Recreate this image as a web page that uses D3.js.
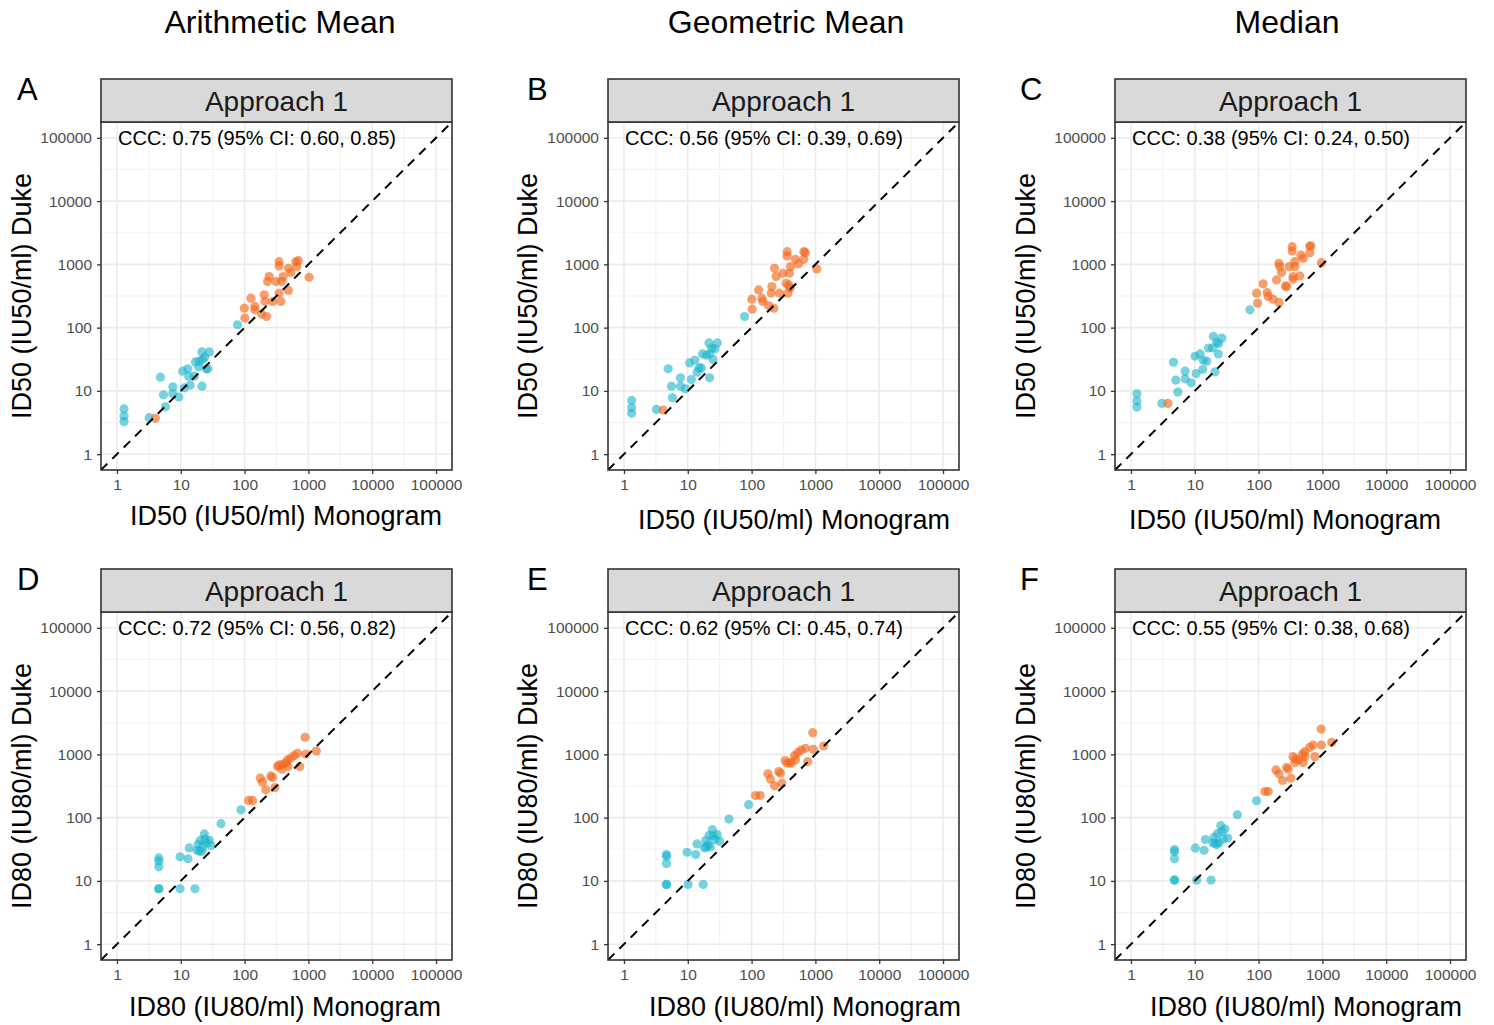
<!DOCTYPE html>
<html>
<head>
<meta charset="utf-8">
<script src="https://cdn.jsdelivr.net/npm/d3@7"></script>
<style>
  body { margin: 0; background: #fff; }
  svg { font-family: "Liberation Sans", Arial, Helvetica, sans-serif; }
</style>
</head>
<body>
<svg id="chart" width="1494" height="1025"></svg>
<script>
// ---------------- DATA ----------------
const columnTitles = ["Arithmetic Mean", "Geometric Mean", "Median"];
const panelLetters = ["A", "B", "C", "D", "E", "F"];
const stripLabel = "Approach 1";
const xTitles = ["ID50 (IU50/ml) Monogram", "ID80 (IU80/ml) Monogram"];
const yTitles = ["ID50 (IU50/ml) Duke", "ID80 (IU80/ml) Duke"];
const tickValues = [1, 10, 100, 1000, 10000, 100000];
const tickLabels = ["1", "10", "100", "1000", "10000", "100000"];
const minorValues = [3.1623, 31.623, 316.23, 3162.3, 31623];
const cccLabels = [
  "CCC: 0.75 (95% CI: 0.60, 0.85)",
  "CCC: 0.56 (95% CI: 0.39, 0.69)",
  "CCC: 0.38 (95% CI: 0.24, 0.50)",
  "CCC: 0.72 (95% CI: 0.56, 0.82)",
  "CCC: 0.62 (95% CI: 0.45, 0.74)",
  "CCC: 0.55 (95% CI: 0.38, 0.68)"
];

// [Monogram, Duke] pairs, low-titer group (cyan) and high-titer group (orange)
const A_low = [[1.29,5.2],[1.29,4.0],[1.29,3.27],[3.2,3.78],[4.8,16.5],[5.76,5.6],[5.36,8.7],[7.5,11.6],[7.5,9.1],[9.3,8.0],[10.7,20.5],[11.4,11.2],[12.9,22.3],[14,12.3],[13.3,17.1],[16.3,17.1],[17,28.7],[19.6,29.4],[21.5,41.3],[22,31.3],[23.7,34.5],[24.9,22.3],[26.5,22.3],[28,41.3],[21.5,11.9],[19,24],[77.7,111]];
const A_high = [[4.0,3.69],[101,141.6],[98.9,203],[125.6,292],[145,216],[145,191],[184.5,164],[221,150],[203,330],[275,259],[229,535],[243,641],[309,535],[347,351],[370,259],[383,535],[402,641],[347,1104],[347,944],[487,867],[530,741],[487,386],[634,1104],[698,1145],[658,921],[1024,626],[208,259]];

const B_low = [[1.32,7.08],[1.32,5.43],[1.32,4.42],[3.24,5.1],[4.93,22.3],[5.76,7.8],[5.56,11.9],[7.68,16.1],[7.68,11.9],[9.2,10.8],[10.7,27.7],[11.4,15.1],[12.9,30.5],[14,19.8],[15,23.1],[16.3,23.1],[17,38.4],[19.6,36.6],[21.5,57.3],[22,38.4],[23.7,47.7],[24.9,31.3],[26.5,46],[29,57.3],[22,16.1],[77.7,150]];
const B_high = [[4.12,4.99],[102,196],[101,282],[129,395],[145,292],[150,259],[184,224],[223,203],[208,446],[274,351],[229,867],[243,641],[309,724],[347,503],[370,351],[392,724],[407,921],[361,1585],[361,1355],[487,1202],[542,1014],[402,420],[383,474],[658,1585],[698,1530],[658,1202],[1050,847],[203,351]];

const C_low = [[1.24,9.0],[1.24,6.9],[1.24,5.56],[3.05,6.35],[4.64,28.4],[5.43,9.57],[5.05,14.8],[7.06,20.5],[7.06,15.5],[8.77,13.4],[10.1,35.3],[10.5,18.8],[12.1,38.4],[13.3,21.8],[13.6,30.5],[15.4,29.4],[16.4,47.7],[19.6,72.9],[19,47.7],[22,58.6],[23.7,55.9],[23.4,38.4],[26.5,68.5],[20.8,20],[73.2,191]];
const C_high = [[3.79,6.35],[96.5,244],[93,351],[118,492],[136,359],[141.6,311],[169,282],[210,250],[191,568],[264,457],[208,1040],[229,741],[215,921],[301,921],[347,641],[370,921],[370,1104],[336,1901],[336,1625],[459,1406],[499,1245],[442,656],[347,582],[634,1950],[658,1950],[634,1530],[964,1064],[275,446]];

const D_low = [[4.53,23.1],[4.53,20.5],[4.53,16.7],[4.53,7.52],[4.53,7.52],[9.77,7.52],[16.7,7.52],[9.77,24],[13,22.3],[13.6,33.2],[18,30.5],[18.7,37.5],[19.6,29.4],[20.3,43.9],[22,34.5],[23.4,55.2],[24,46],[25.5,39.8],[28,43.9],[29.8,36.2],[21.5,29.4],[42.7,80.2],[87.7,133]];
const D_high = [[115.5,187],[133,187],[176,420],[191,363],[215,275],[258,457],[275,430],[298,299],[328,641],[347,681],[383,582],[442,724],[470,817],[480,641],[530,867],[597,955],[673,1040],[732,641],[888,1857],[908,1014],[1334,1130],[400,700]];

const E_low = [[4.64,26.1],[4.64,24.6],[4.64,18.8],[4.64,8.8],[4.64,8.8],[10.1,8.8],[17.4,8.8],[9.77,28.4],[13.3,26.1],[14,38.4],[18.4,33.2],[19.1,43.4],[19.6,34.5],[21.5,52],[22.5,34.5],[24.3,64.6],[24.9,52],[26.5,45],[29,53.8],[31.6,42.3],[20.8,37.5],[44.2,95],[89.8,160]];
const E_high = [[115.5,224],[136,224],[180,492],[198,405],[229,318],[267,535],[284,503],[298,351],[336,797],[361,724],[392,741],[470,955],[487,817],[530,1064],[597,1173],[698,1245],[759,769],[908,2198],[931,1202],[1349,1355],[417,724]];

const F_low = [[4.81,31.3],[4.81,29],[4.81,22.3],[4.81,10.3],[4.81,10.3],[10.7,10.3],[18,10.3],[10.2,33.2],[14,30.5],[14.7,45],[19.3,39.8],[20,48.9],[20.8,39.8],[22.7,55.9],[24,39.8],[25.5,74.6],[26.5,60.8],[28,46],[29.8,66.1],[32.8,47.7],[22,37.5],[46.4,111],[93,185]];
const F_high = [[125.6,259],[141.6,259],[187,568],[208,492],[237,386],[275,626],[291,582],[320,420],[347,921],[383,847],[417,817],[487,1014],[499,741],[530,921],[530,1104],[634,1291],[715,1406],[759,921],[953,2512],[964,1406],[1400,1549],[370,741]];

const lowSets = [A_low, B_low, C_low, D_low, E_low, F_low];
const highSets = [A_high, B_high, C_high, D_high, E_high, F_high];

// ---------------- LAYOUT ----------------
const svg = d3.select("#chart");
const colX = [101, 608, 1115];
const rowStripTop = [79, 569];
const stripH = 43;
const plotW = 351, plotH = 348;
const lowColor = "#1DB4CB", highColor = "#F26A1E";
const xTitleCX = [[286, 794, 1285], [285, 805, 1306]];
const xTitleBase = [[525, 529, 529], [1016, 1016, 1016]];
const yTitleOff = [70, 71, 80];
const letterX = [17, 527, 1020];

const domain = [Math.pow(10, -0.25), Math.pow(10, 5.25)];

// column titles
columnTitles.forEach((t, i) => {
  svg.append("text").attr("x", [280, 786, 1287][i]).attr("y", 33)
    .attr("text-anchor", "middle").attr("font-size", 32).attr("fill", "#000").text(t);
});

for (let p = 0; p < 6; p++) {
  const r = Math.floor(p / 3), c = p % 3;
  const x0 = colX[c];
  const sTop = rowStripTop[r];
  const y0 = sTop + stripH;
  const g = svg.append("g");

  const xs = d3.scaleLog().domain(domain).range([x0, x0 + plotW]);
  const ys = d3.scaleLog().domain(domain).range([y0 + plotH, y0]);

  // panel letter
  svg.append("text").attr("x", letterX[c]).attr("y", sTop + 21)
    .attr("font-size", 31).attr("fill", "#000").text(panelLetters[p]);

  // background
  g.append("rect").attr("x", x0).attr("y", y0).attr("width", plotW).attr("height", plotH).attr("fill", "#fff");

  // minor grid
  g.selectAll(".mgx").data(minorValues).enter().append("line")
    .attr("x1", d => xs(d)).attr("x2", d => xs(d)).attr("y1", y0).attr("y2", y0 + plotH)
    .attr("stroke", "#F2F2F2").attr("stroke-width", 1.2);
  g.selectAll(".mgy").data(minorValues).enter().append("line")
    .attr("y1", d => ys(d)).attr("y2", d => ys(d)).attr("x1", x0).attr("x2", x0 + plotW)
    .attr("stroke", "#F2F2F2").attr("stroke-width", 1.2);
  // major grid
  g.selectAll(".gx").data(tickValues).enter().append("line")
    .attr("x1", d => xs(d)).attr("x2", d => xs(d)).attr("y1", y0).attr("y2", y0 + plotH)
    .attr("stroke", "#EBEBEB").attr("stroke-width", 1.6);
  g.selectAll(".gy").data(tickValues).enter().append("line")
    .attr("y1", d => ys(d)).attr("y2", d => ys(d)).attr("x1", x0).attr("x2", x0 + plotW)
    .attr("stroke", "#EBEBEB").attr("stroke-width", 1.6);

  // points
  const clipId = "clip" + p;
  svg.append("clipPath").attr("id", clipId).append("rect")
    .attr("x", x0).attr("y", y0).attr("width", plotW).attr("height", plotH);
  const pg = g.append("g").attr("clip-path", `url(#${clipId})`);
  pg.selectAll(".lo").data(lowSets[p]).enter().append("circle")
    .attr("cx", d => xs(d[0])).attr("cy", d => ys(d[1])).attr("r", 4.6)
    .attr("fill", lowColor).attr("fill-opacity", 0.6);
  pg.selectAll(".hi").data(highSets[p]).enter().append("circle")
    .attr("cx", d => xs(d[0])).attr("cy", d => ys(d[1])).attr("r", 4.6)
    .attr("fill", highColor).attr("fill-opacity", 0.65);

  // identity line
  pg.append("line")
    .attr("x1", xs(domain[0])).attr("y1", ys(domain[0]))
    .attr("x2", xs(domain[1])).attr("y2", ys(domain[1]))
    .attr("stroke", "#000").attr("stroke-width", 2).attr("stroke-dasharray", "9,7");

  // CCC annotation
  g.append("text").attr("x", x0 + 17).attr("y", y0 + 23)
    .attr("font-size", 20).attr("fill", "#000").text(cccLabels[p]);

  // panel border
  g.append("rect").attr("x", x0).attr("y", y0).attr("width", plotW).attr("height", plotH)
    .attr("fill", "none").attr("stroke", "#333").attr("stroke-width", 1.6);

  // strip
  g.append("rect").attr("x", x0).attr("y", sTop).attr("width", plotW).attr("height", stripH)
    .attr("fill", "#D9D9D9").attr("stroke", "#333").attr("stroke-width", 1.6);
  g.append("text").attr("x", x0 + plotW / 2).attr("y", sTop + stripH / 2 + 10)
    .attr("text-anchor", "middle").attr("font-size", 28).attr("fill", "#1A1A1A").text(stripLabel);

  // axes
  const xAxis = d3.axisBottom(xs).tickValues(tickValues).tickFormat((d, i) => tickLabels[i]).tickSize(4).tickPadding(5);
  const yAxis = d3.axisLeft(ys).tickValues(tickValues).tickFormat((d, i) => tickLabels[i]).tickSize(4).tickPadding(5);
  const gx = g.append("g").attr("transform", `translate(0,${y0 + plotH})`).call(xAxis);
  const gy = g.append("g").attr("transform", `translate(${x0},0)`).call(yAxis);
  [gx, gy].forEach(a => {
    a.select(".domain").remove();
    a.selectAll(".tick line").attr("stroke", "#333").attr("stroke-width", 1.3);
    a.selectAll(".tick text").attr("font-size", 15.5).attr("fill", "#4D4D4D")
      .attr("font-family", "'Liberation Sans', Arial, sans-serif");
  });

  // axis titles
  svg.append("text").attr("x", xTitleCX[r][c]).attr("y", xTitleBase[r][c])
    .attr("text-anchor", "middle").attr("font-size", 27).attr("fill", "#000").text(xTitles[r]);
  svg.append("text")
    .attr("transform", `translate(${x0 - yTitleOff[c]},${y0 + plotH / 2}) rotate(-90)`)
    .attr("text-anchor", "middle").attr("font-size", 27).attr("fill", "#000").text(yTitles[r]);
}
</script>
</body>
</html>
